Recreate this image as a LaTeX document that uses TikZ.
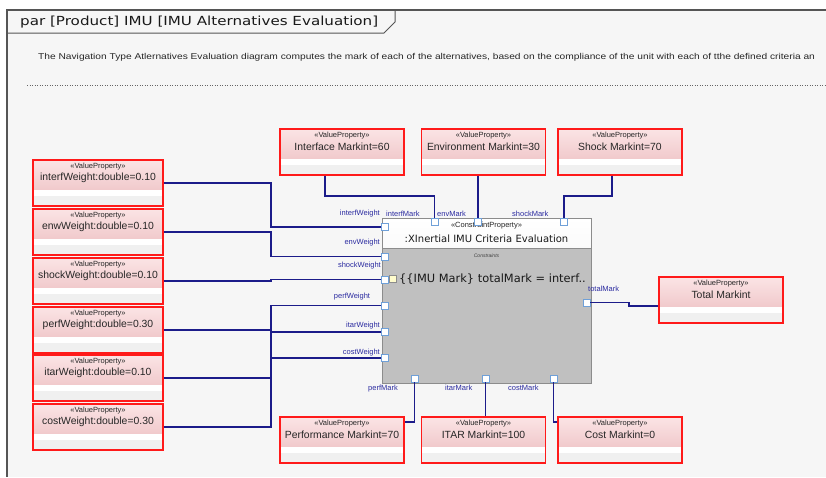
\documentclass[tikz,border=0pt]{standalone}
\usepackage{fontspec}
\setmainfont{Liberation Sans}
\newfontfamily\dejavu{DejaVu Sans}
\definecolor{framebg}{HTML}{F6F6F6}
\definecolor{frameline}{HTML}{555555}
\definecolor{vpred}{HTML}{FF1A1A}
\definecolor{vptop}{HTML}{FBE4E5}
\definecolor{vpbot}{HTML}{EBBBBE}
\definecolor{vpgray}{HTML}{F0F0F0}
\definecolor{wire}{HTML}{1C1C8A}
\definecolor{labblue}{HTML}{2B2BA0}
\definecolor{portblue}{HTML}{6FA0D8}
\definecolor{cbody}{HTML}{C0C0C0}
\definecolor{cline}{HTML}{8C8C8C}
\definecolor{chead}{HTML}{E4E4E4}
\newcommand\vpbox[4][]{%
  \node[vp,#1] (#2) at (#3) {};
  \node[stereo] (#2-s) at ([yshift=-7.5pt]#2.north) {«ValueProperty»};
  \node[vpname] (#2-t) at ([yshift=-18.5pt]#2.north) {#4};
}
\begin{document}
\begin{tikzpicture}[x=1pt,y=-1pt,
  vp/.style={draw=vpred, line width=1.1pt, minimum width=124pt, minimum height=46pt, inner sep=0pt,
    path picture={
      \fill[top color=vptop,bottom color=vpbot] (path picture bounding box.north west) rectangle ([yshift=16pt]path picture bounding box.south east);
      \fill[white] ([yshift=16pt]path picture bounding box.south west) rectangle ([yshift=10pt]path picture bounding box.south east);
      \fill[vpgray] ([yshift=10pt]path picture bounding box.south west) rectangle (path picture bounding box.south east);
    }},
  stereo/.style={font=\fontsize{7.5}{8}\selectfont, text=black!85, inner sep=0pt},
  vpname/.style={font=\fontsize{10.4}{11}\selectfont, text=black!85, inner sep=0pt},
  cblock/.style={draw=cline, fill=cbody, line width=0.9pt, minimum width=209pt, minimum height=165pt, inner sep=0pt,
    path picture={
      \fill[top color=white,bottom color=chead] (path picture bounding box.north west) rectangle ([yshift=-30pt]path picture bounding box.north east);
      \draw[cline, line width=0.6pt] ([yshift=-30pt]path picture bounding box.north west) -- ([yshift=-30pt]path picture bounding box.north east);
    }},
  port/.style={draw=portblue, fill=white, minimum size=7pt, inner sep=0pt, line width=0.8pt},
  plab/.style={font=\fontsize{7.5}{8}\selectfont, text=labblue, inner sep=0pt},
  wirestyle/.style={draw=wire, line width=1.3pt},
]
\useasboundingbox (0,0) rectangle (826,477);
% frame
\fill[white] (0,0) rectangle (826,477);
\fill[framebg] (7,10) rectangle (826,477);
\draw[frameline, line width=1.6pt] (826,10) -- (7,10) -- (7,477);
\draw[frameline, line width=1pt] (7,33) -- (384,33) -- (395,22) -- (395,10);
\node[anchor=west, inner sep=0pt, font=\dejavu\fontsize{12.5}{14}\selectfont, text=black!90] (title) at (20,22.5) {\scalebox{1.21}[1]{par [Product] IMU [IMU Alternatives Evaluation]}};
\node[anchor=west, inner sep=0pt, font=\fontsize{8.5}{9}\selectfont, text=black!85] (desc) at (38,57) {\scalebox{1.2}[1]{The Navigation Type Atlernatives Evaluation diagram computes the mark of each of the alternatives, based on the compliance of the unit with each of tthe defined criteria an}};
\draw[black!60, dotted, line width=0.5pt] (27,85) -- (826,85);

% constraint block
\node[cblock] (cb) at (486.5,300.5) {};
\node[stereo] (cb-s) at ([yshift=-8pt]cb.north) {«ConstraintProperty»};
\node[inner sep=0pt, font=\dejavu\fontsize{10}{11}\selectfont, text=black!90] (cb-t) at ([yshift=-21pt]cb.north) {:XInertial IMU Criteria Evaluation};
\node[inner sep=0pt, font=\itshape\fontsize{5}{6}\selectfont, text=black!75] (cb-c) at ([yshift=-38pt]cb.north) {Constraints};
\node[draw=black!45, fill=yellow!20, minimum size=7pt, inner sep=0pt, line width=0.5pt] (cb-i) at (393,279) {};
\node[anchor=west, inner sep=0pt, font=\dejavu\fontsize{11.4}{12}\selectfont, text=black!90] (cb-e) at (399,279.5) {\{\{IMU Mark\} totalMark = interf..};

% value properties left
\vpbox[minimum width=130pt]{iw}{98,183}{interfWeight:double=0.10}
\vpbox[minimum width=130pt]{ew}{98,232}{enwWeight:double=0.10}
\vpbox[minimum width=130pt]{sw}{98,281}{shockWeight:double=0.10}
\vpbox[minimum width=130pt]{pw}{98,330}{perfWeight:double=0.30}
\vpbox[minimum width=130pt]{tw}{98,378}{itarWeight:double=0.10}
\vpbox[minimum width=130pt]{cw}{98,427}{costWeight:double=0.30}
% top
\vpbox{im}{342,152}{Interface Markint=60}
\vpbox{em}{483.5,152}{Environment Markint=30}
\vpbox{sm}{620,152}{Shock Markint=70}
% bottom
\vpbox{pm}{342,440}{Performance Markint=70}
\vpbox{tm}{483.5,440}{ITAR Markint=100}
\vpbox{cm}{620,440}{Cost Markint=0}
% total
\vpbox[line width=2.2pt]{tot}{721,300}{Total Markint}

% ports
\node[port] (pIW) at (384.5,227) {};
\node[port] (pEW) at (384.5,256.5) {};
\node[port] (pSW) at (384.5,279.5) {};
\node[port] (pPW) at (384.5,305.5) {};
\node[port] (pTW) at (384.5,332) {};
\node[port] (pCW) at (384.5,358) {};
\node[port] (pIM) at (434.5,221.5) {};
\node[port] (pEM) at (478,221.5) {};
\node[port] (pSM) at (564,221.5) {};
\node[port] (pTM) at (586.5,302.5) {};
\node[port] (pPM) at (414.5,378.5) {};
\node[port] (pIT) at (485.5,378.5) {};
\node[port] (pCM) at (553.5,378.5) {};

% port labels
\node[plab, anchor=east] (lIW) at (380,214) {interfWeight};
\node[plab, anchor=east] (lEW) at (380,243) {envWeight};
\node[plab, anchor=east] (lSW) at (381,266) {shockWeight};
\node[plab] (lPW) at (352,297) {perfWeight};
\node[plab, anchor=east] (lTW) at (380,326) {itarWeight};
\node[plab, anchor=east] (lCW) at (380,353) {costWeight};
\node[plab, anchor=west] (lIM) at (386,214) {interfMark};
\node[plab, anchor=west] (lEM) at (437,214) {envMark};
\node[plab, anchor=west] (lSM) at (512,214) {shockMark};
\node[plab, anchor=west] (lTM) at (588,289) {totalMark};
\node[plab, anchor=east] (lPM) at (398,389) {perfMark};
\node[plab, anchor=west] (lIT) at (445,388) {itarMark};
\node[plab, anchor=west] (lCM) at (508,388) {costMark};

% wires
\coordinate (busx) at (271,0);
\coordinate (topy) at (0,196);
\coordinate (boty) at (0,422);
\foreach \b/\p in {iw/pIW, ew/pEW, sw/pSW, pw/pPW, tw/pTW, cw/pCW}
  \draw[wirestyle] (\b.east) -| (busx |- \p) -- (\p.west);
\draw[wirestyle] ([xshift=-17pt]im.south) |- (topy -| pIM) -- (pIM.north);
\draw[wirestyle] (em.south -| pEM) -- (pEM.north);
\draw[wirestyle] ([xshift=-8pt]sm.south) |- (topy -| pSM) -- (pSM.north);
\draw[wirestyle] (pTM.east) -- ++(38.5,0) |- ([yshift=-6pt]tot.west);
\draw[wirestyle] (pPM.south) |- (boty -| pm.east);
\draw[wirestyle] (pIT.south) -- (pIT.south |- tm.north);
\draw[wirestyle] (pCM.south) |- (boty -| cm.west);
\end{tikzpicture}
\end{document}
